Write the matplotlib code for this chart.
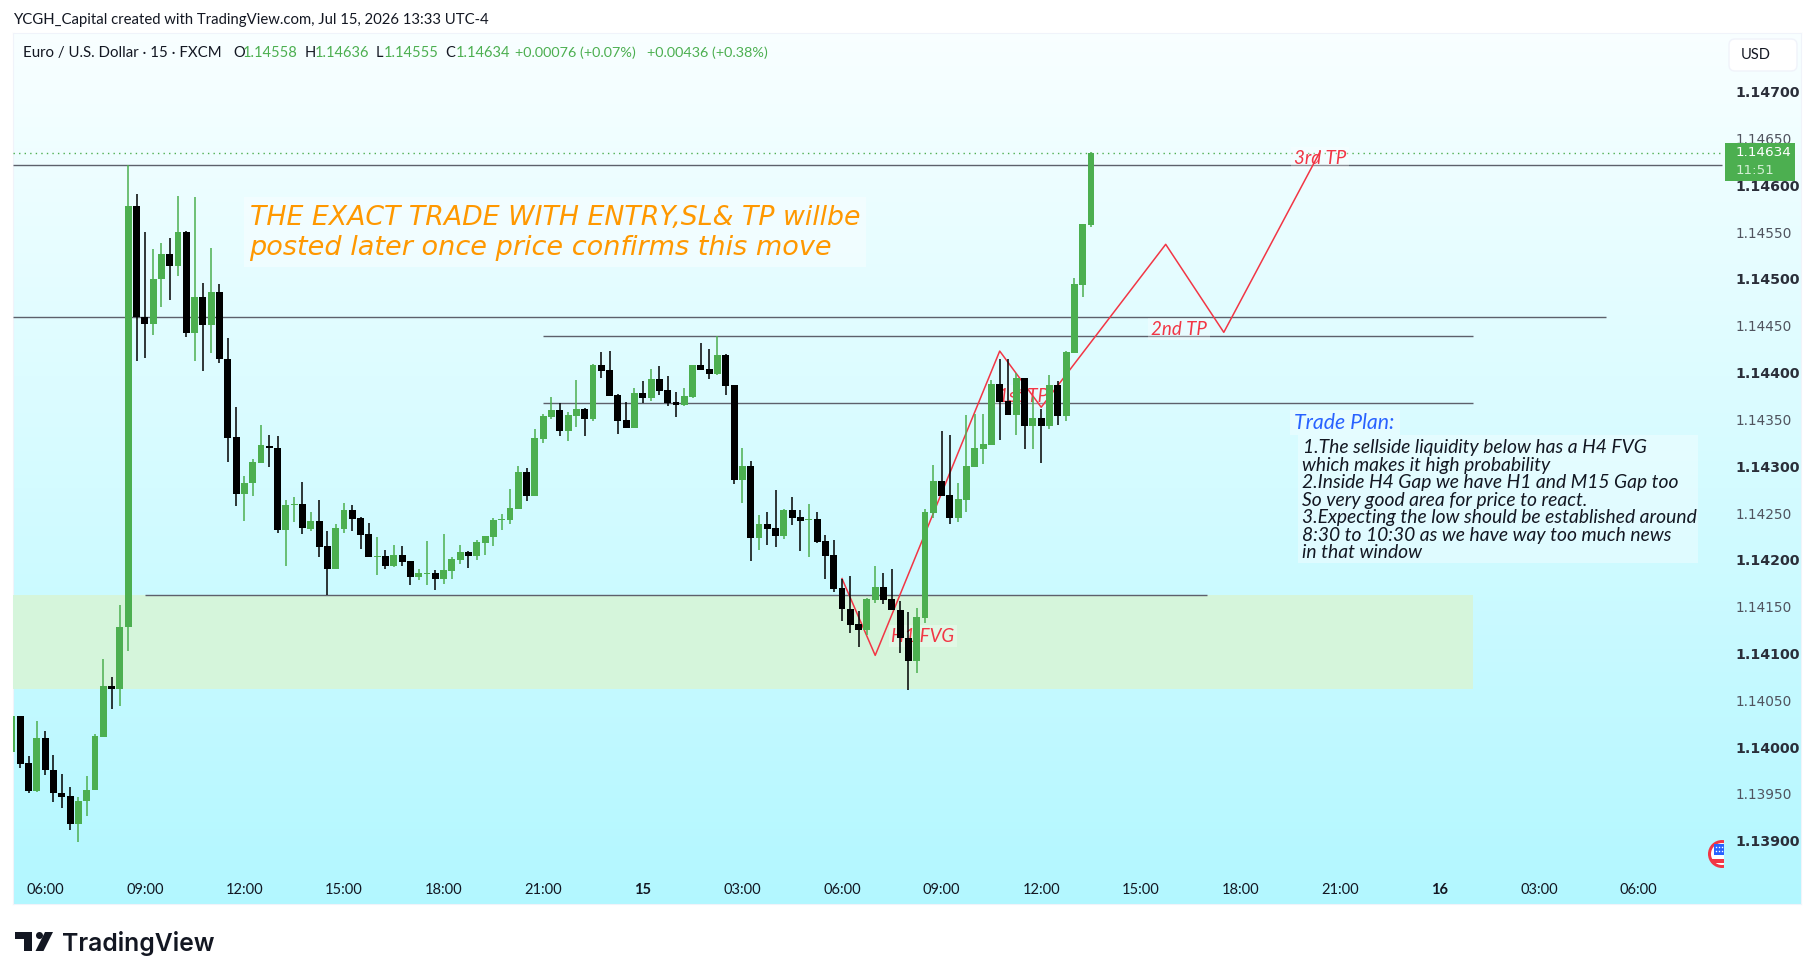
"""
EUR/USD 15m TradingView snapshot with hand drawn trade plan
"""

import numpy as np
import matplotlib
matplotlib.use('Agg')
import matplotlib.pyplot as plt
from matplotlib.patches import Rectangle, Circle, Polygon, FancyBboxPatch

#------------------------------------------------------------------#
# Data, prices in 1e-5 units (114634 = 1.14634)

opens = [113995,114033,113983,113953,114010,113976,113951,113948,113918,113942,
         113954,114011,114065,114062,114128,114578,114459,114452,114500,114527,
         114514,114550,114442,114481,114451,114486,114415,114331,114270,114282,
         114303,114322,114320,114232,114259,114260,114233,114241,114215,114190,
         114233,114253,114245,114228,114203,114204,114193,114205,114199,114182,
         114185,114186,114180,114188,114200,114208,114204,114218,114224,114243,
         114243,114254,114294,114268,114329,114353,114360,114338,114354,114361,
         114350,114408,114403,114376,114349,114341,114378,114373,114393,114381,
         114369,114365,114374,114408,114404,114399,114419,114387,114285,114300,
         114223,114238,114234,114226,114253,114246,114243,114244,114220,114205,
         114170,114148,114132,114125,114157,114171,114158,114146,114117,114092,
         114138,114250,114284,114269,114245,114264,114299,114318,114323,114388,
         114370,114355,114394,114343,114352,114343,114387,114354,114421,114494,
         114558]
highs = [114033,114033,113990,114028,114017,113992,113971,113957,113947,113969,
         114014,114094,114075,114152,114622,114591,114550,114532,114538,114544,
         114589,114551,114588,114496,114533,114495,114437,114363,114290,114308,
         114344,114333,114332,114264,114267,114283,114251,114264,114231,114238,
         114261,114259,114246,114239,114224,114211,114216,114215,114199,114190,
         114220,114189,114228,114203,114216,114210,114221,114226,114245,114249,
         114276,114300,114298,114340,114356,114374,114368,114358,114392,114362,
         114409,114422,114423,114377,114369,114384,114391,114404,114407,114396,
         114379,114384,114408,114432,114425,114439,114420,114387,114319,114306,
         114248,114251,114275,114254,114267,114253,114260,114251,114227,114221,
         114180,114183,114145,114159,114193,114186,114190,114156,114144,114149,
         114254,114301,114338,114333,114282,114355,114356,114356,114392,114415,
         114415,114400,114394,114374,114361,114397,114391,114423,114501,114559,
         114636]
lows = [113995,113978,113951,113952,113970,113941,113935,113911,113899,113926,
        113954,114011,114041,114044,114103,114412,114416,114440,114470,114478,
        114503,114438,114412,114402,114421,114410,114305,114258,114242,114268,
        114303,114299,114229,114193,114240,114228,114231,114203,114162,114190,
        114229,114231,114212,114203,114184,114190,114192,114193,114173,114179,
        114173,114168,114174,114180,114196,114191,114200,114205,114215,114232,
        114238,114254,114263,114268,114325,114350,114332,114327,114342,114332,
        114348,114394,114375,114334,114341,114341,114368,114370,114376,114364,
        114353,114364,114373,114403,114393,114397,114376,114281,114261,114199,
        114211,114216,114214,114222,114237,114209,114203,114218,114180,114166,
        114135,114122,114107,114120,114154,114153,114146,114101,114061,114079,
        114133,114245,114268,114238,114240,114251,114299,114302,114323,114328,
        114355,114333,114318,114318,114303,114340,114344,114348,114421,114481,
        114555]
closes = [114033,113982,113953,114010,113976,113951,113947,113918,113943,113954,
          114012,114065,114062,114128,114578,114459,114452,114500,114527,114514,
          114550,114442,114481,114451,114486,114415,114330,114270,114282,114304,
          114323,114319,114232,114259,114260,114234,114241,114214,114190,114234,
          114253,114244,114227,114203,114204,114193,114205,114198,114182,114186,
          114186,114180,114189,114201,114208,114204,114219,114226,114243,114244,
          114255,114294,114268,114330,114354,114360,114338,114355,114361,114350,
          114408,114402,114375,114348,114341,114378,114373,114393,114380,114368,
          114365,114375,114408,114403,114399,114419,114386,114285,114300,114223,
          114238,114233,114226,114253,114245,114242,114244,114219,114204,114169,
          114148,114130,114125,114158,114171,114157,114146,114117,114092,114139,
          114251,114284,114268,114245,114265,114300,114320,114324,114388,114369,
          114355,114394,114343,114352,114343,114387,114354,114422,114495,114559,
          114634]

# Drawn levels: price, first bar, last bar
level_prices = [114622, 114459, 114439, 114367, 114162]
level_starts = [0, 0, 64, 64, 16]
level_ends = [206, 192, 176, 176, 144]

# Gap zone
zone_top = 114162
zone_bottom = 114062
zone_end = 176

# Projected path
path_bars = [100, 104, 119, 124, 139, 146, 157.6]
path_prices = [114180, 114098, 114423, 114363, 114537, 114443, 114636]

last_price = 114634

price_ticks = [113900 + 50 * i for i in range(17)]
time_ticks = [4 + 12 * i for i in range(17)]
time_labels = ['06:00', '09:00', '12:00', '15:00', '18:00', '21:00', '15', '03:00',
               '06:00', '09:00', '12:00', '15:00', '18:00', '21:00', '16', '03:00', '06:00']

trade_plan = ['1.The sellside liquidity below has a H4 FVG',
              'which makes it high probability',
              '2.Inside H4 Gap we have H1 and M15 Gap too',
              'So very good area for price to react.',
              '3.Expecting the low should be established around',
              '8:30 to 10:30 as we have way too much news',
              'in that window']

# Colours
UP = '#4caf50'
DOWN = '#000000'
RED = '#f23645'
LINE = '#5d606b'
TEXT = '#131722'
FONT = 'Lato'

#------------------------------------------------------------------#
# Layout, pixel helpers

W, H = 1814, 980
PANEL = (13, 33, 1801, 904)  # left, top, right, bottom
CHART = (13, 33, 1724, 870)


def bar_x(px):
    return (px - 12) / 8.3


def price_y(py):
    return 114700 - (py - 91.7) * 1.068


fig = plt.figure(figsize=(W / 100, H / 100), dpi=100, facecolor='white')

# Background gradient
bg = fig.add_axes([PANEL[0] / W, 1 - PANEL[3] / H, (PANEL[2] - PANEL[0]) / W, (PANEL[3] - PANEL[1]) / H])
steps = np.linspace(0, 1, 256)[:, None, None]
grad = np.array([0.975, 1.0, 1.0]) * (1 - steps) + np.array([0.70, 0.97, 1.0]) * steps
bg.imshow(grad, aspect='auto', extent=(0, 1, 0, 1))
bg.set_xticks([])
bg.set_yticks([])
for s in bg.spines.values():
    s.set_color('#f0f3fa')

#------------------------------------------------------------------#
# Chart axes

ax = fig.add_axes([CHART[0] / W, 1 - CHART[3] / H, (CHART[2] - CHART[0]) / W, (CHART[3] - CHART[1]) / H],
                  facecolor='none')
ax.set_xlim(bar_x(CHART[0]), bar_x(CHART[2]))
ax.set_ylim(price_y(CHART[3]), price_y(CHART[1]))
for s in ax.spines.values():
    s.set_visible(False)

ax.add_patch(Rectangle((bar_x(CHART[0]), zone_bottom), zone_end - bar_x(CHART[0]), zone_top - zone_bottom,
                       fc='#d5f5db', ec='none', zorder=1))

for p, a, b in zip(level_prices, level_starts, level_ends):
    ax.hlines(p, max(a, bar_x(CHART[0])), b, color=LINE, lw=1.0, zorder=2)
ax.hlines(last_price, bar_x(CHART[0]), bar_x(CHART[2]), color=UP, lw=1.0, linestyles=(0, (1, 3)), zorder=2)

ax.plot(path_bars, path_prices, color=RED, lw=1.1, zorder=3)

# Labels that sit under the candles and the path
small = dict(family=FONT, style='italic', color=RED, fontsize=13.5, ha='center', va='center', zorder=2.5)
box = dict(fc='white', ec='none', alpha=0.3, pad=2)
ax.text(bar_x(923), price_y(636), 'H1 FVG', bbox=box, **small)
ax.text(bar_x(1023), price_y(396), '1st TP', bbox=box, **small)
ax.text(bar_x(1179), price_y(329), '2nd TP', bbox=box, **small)
ax.text(bar_x(1320), price_y(158), '3rd TP', bbox=box, **small)

# Candles
idx = np.arange(len(opens))
o, h, l, c = [np.array(v) for v in (opens, highs, lows, closes)]
colors = np.where(c >= o, UP, DOWN)
ax.vlines(idx, l, h, colors=colors, lw=1.1, zorder=4)
ax.bar(idx, np.abs(c - o), bottom=np.minimum(o, c), width=0.84, color=colors, lw=0, zorder=5)

# Price and time scales
ax.set_yticks(price_ticks)
ax.set_yticklabels(['%.5f' % (t / 1e5) for t in price_ticks])
ax.tick_params(axis='y', left=False, labelleft=False, right=False, labelright=True, pad=4.7, labelsize=10)
for t, lab in zip(price_ticks, ax.get_yticklabels()):
    major = t % 100 == 0
    lab.set_fontweight('bold' if major else 'normal')
    lab.set_fontsize(10.2 if major else 9.8)
    lab.set_color('#2a2e39' if major else '#50535e')
ax.set_xticks(time_ticks)
ax.set_xticklabels(time_labels)
ax.tick_params(axis='x', bottom=False, pad=5.7, labelsize=10.5, labelcolor=TEXT)
for lab in ax.get_xticklabels():
    if lab.get_text() in ('15', '16'):
        lab.set_fontweight('bold')
    lab.set_family(FONT)

#------------------------------------------------------------------#
# Overlay in image pixels: header, notes, tags, logo

ov = fig.add_axes([0, 0, 1, 1], facecolor='none')
ov.set_xlim(0, W)
ov.set_ylim(H, 0)
ov.axis('off')

ov.text(13, 20, 'YCGH_Capital created with TradingView.com, Jul 15, 2026 13:33 UTC-4',
        family=FONT, fontsize=10.7, color=TEXT, va='center')

header = [(23, 'Euro / U.S. Dollar · 15 · FXCM', TEXT, 10.8),
          (233, 'O', TEXT, 10.5), (243, '1.14558', UP, 10.5),
          (305, 'H', TEXT, 10.5), (315, '1.14636', UP, 10.5),
          (376, 'L', TEXT, 10.5), (384, '1.14555', UP, 10.5),
          (445, 'C', TEXT, 10.5), (456, '1.14634', UP, 10.5),
          (515, '+0.00076 (+0.07%)', UP, 10.4), (647, '+0.00436 (+0.38%)', UP, 10.4)]
for x, s, col, size in header:
    ov.text(x, 53, s, family=FONT, fontsize=size, color=col, va='center')

# USD box
ov.add_patch(FancyBboxPatch((1733, 43), 60, 24, boxstyle='round,pad=4,rounding_size=6',
                            fc='white', ec='#f0f3fa', lw=1))
ov.text(1741, 55, 'USD', family=FONT, fontsize=10.5, color=TEXT, va='center')

# Last price tag
ov.add_patch(Rectangle((1725, 143), 70, 38, fc=UP, ec='none'))
ov.text(1736, 153, '1.14634', fontsize=9.7, color='white', va='center')
ov.text(1736, 171, '11:51', fontsize=9.7, color='#d4efd5', va='center')

# Orange note
ov.add_patch(Rectangle((244, 197), 622, 70, fc='white', ec='none', alpha=0.4))
ov.text(250, 218, 'THE EXACT TRADE WITH ENTRY,SL& TP willbe', family='DejaVu Sans', style='italic',
        fontsize=19.3, color='#ff9800', va='center')
ov.text(249, 248, 'posted later once price confirms this move', family='DejaVu Sans', style='italic',
        fontsize=19.5, color='#ff9800', va='center')

# Trade plan
ov.add_patch(Rectangle((1290, 410), 110, 25, fc='white', ec='none', alpha=0.35))
ov.text(1294, 423, 'Trade Plan:', family=FONT, style='italic', fontsize=15.3, color='#2962ff', va='center')
ov.add_patch(Rectangle((1298, 435), 400, 128, fc='white', ec='none', alpha=0.35))
for i, s in enumerate(trade_plan):
    ov.text(1303 if i == 0 else 1301.5, 447.5 + 17.57 * i, s, family=FONT, style='italic', fontsize=13.85,
            color=TEXT, va='center')

# Calendar flag, cut off by the price scale
clip = Rectangle((0, 0), CHART[2], H, transform=ov.transData)
flag = [Circle((1722, 854), 14, fc=RED, ec='none'),
        Circle((1722, 854), 11, fc='white', ec='none'),
        Rectangle((1714, 844), 12, 11, fc='#2962ff', ec='none'),
        Rectangle((1712, 859), 14, 4, fc=RED, ec='none')]
for p in flag:
    ov.add_patch(p)
    p.set_clip_path(clip)
ov.plot([1716, 1719, 1722, 1716, 1719, 1722], [847, 847, 847, 851, 851, 851], ls='none', marker='s', ms=1,
        mfc='white', mec='none')

# Logo
ov.add_patch(Polygon([(15, 932), (32, 932), (32, 951), (24, 951), (24, 939), (15, 939)], fc='#131722', ec='none'))
ov.add_patch(Circle((39.5, 935.5), 3.5, fc='#131722', ec='none'))
ov.add_patch(Polygon([(45, 932), (53, 932), (43.5, 951), (35.5, 951)], fc='#131722', ec='none'))
ov.text(62, 943, 'TradingView', family='Inter', fontweight='semibold', fontsize=17.8, color='#131722', va='center')

ov.set_xlim(0, W)
ov.set_ylim(H, 0)

fig.savefig('out.png', dpi=100)
